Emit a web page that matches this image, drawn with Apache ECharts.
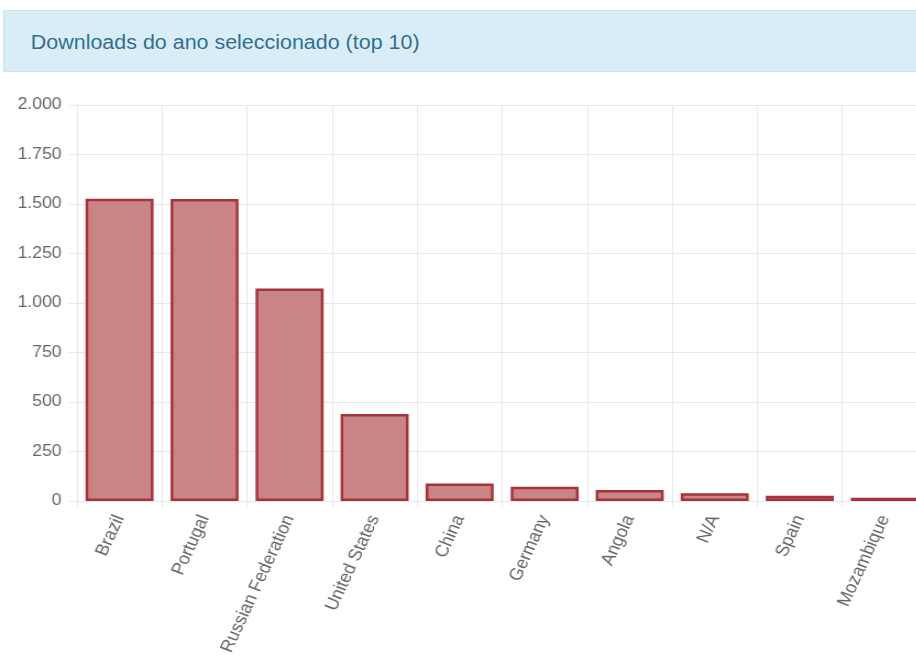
<!DOCTYPE html>
<html>
<head>
<meta charset="utf-8">
<script src="https://cdn.jsdelivr.net/npm/echarts@6/dist/echarts.min.js"></script>
<style>
html,body{margin:0;padding:0;background:#fff;overflow:hidden;width:916px;height:666px;}
#wrap{position:absolute;left:0;top:0;width:860px;height:666px;transform:scaleX(1.1);transform-origin:0 0;}
#hdr{position:absolute;left:3px;top:10px;width:900px;height:62px;box-sizing:border-box;background:#d9edf7;border:1px solid #bce8f1;}
#hdr span{position:absolute;left:24px;top:19px;font-family:"Liberation Sans",Arial,sans-serif;font-size:19.5px;color:#31708f;line-height:24px;white-space:nowrap;}
#main{position:absolute;left:0;top:0;width:860px;height:666px;}
</style>
</head>
<body>
<div id="wrap">
  <div id="main"></div>
  <div id="hdr"><span id="title"></span></div>
</div>
<script>
const titleText = "Downloads do ano seleccionado (top 10)";
const countries = ["Brazil", "Portugal", "Russian Federation", "United States", "China", "Germany", "Angola", "N/A", "Spain", "Mozambique"];
const downloads = [1527, 1525, 1073, 439, 88, 72, 56, 39, 27, 16];
const yMin = 0;
const yMax = 2000;
const yStep = 250;

document.getElementById('title').textContent = titleText;

function fmt(v) {
  if (v >= 1000) {
    const t = Math.floor(v / 1000);
    const r = String(v % 1000).padStart(3, '0');
    return t + '.' + r;
  }
  return String(v);
}

const chart = echarts.init(document.getElementById('main'), null, {renderer: 'canvas'});
const gridColor = '#e9e9e9';
chart.setOption({
  animation: false,
  textStyle: {fontFamily: '"Liberation Sans", Arial, sans-serif'},
  grid: {left: 70, top: 105, width: 773, height: 396, containLabel: false},
  xAxis: {
    type: 'category',
    data: countries,
    boundaryGap: true,
    axisLine: {show: true, lineStyle: {color: gridColor, width: 1}},
    axisTick: {show: true, length: 6, lineStyle: {color: gridColor}},
    splitLine: {show: true, lineStyle: {color: gridColor, width: 1}},
    axisLabel: {
      rotate: 67,
      margin: 15,
      color: '#666',
      fontSize: 17,
      interval: 0,
      fontFamily: '"Liberation Sans", Arial, sans-serif'
    }
  },
  yAxis: {
    type: 'value',
    min: yMin,
    max: yMax,
    interval: yStep,
    axisLine: {show: true, lineStyle: {color: gridColor, width: 1}},
    axisTick: {show: true, length: 7, lineStyle: {color: gridColor}},
    splitLine: {show: true, lineStyle: {color: gridColor, width: 1}},
    axisLabel: {
      margin: 14,
      color: '#666',
      fontSize: 16,
      formatter: fmt,
      fontFamily: '"Liberation Sans", Arial, sans-serif'
    }
  },
  series: [{
    type: 'bar',
    data: downloads,
    barCategoryGap: '20%',
    itemStyle: {
      color: '#c98486',
      borderColor: '#a8323a',
      borderWidth: 2.5
    }
  }]
});
</script>
</body>
</html>
